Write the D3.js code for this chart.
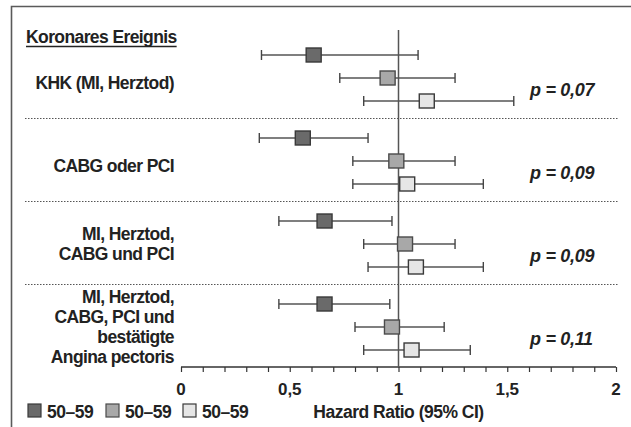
<!DOCTYPE html>
<html>
<head>
<meta charset="utf-8">
<script src="https://cdn.jsdelivr.net/npm/d3@7"></script>
<style>
  body { margin: 0; background: #fff; }
  text { font-family: "Liberation Sans", Arial, Helvetica, sans-serif; fill: #222; }
</style>
</head>
<body>
<script>
// data
const groups = ["KHK", "CABG", "MI_CABG", "MI_AP"]
const groupLabels = [
  ["KHK (MI, Herztod)"],
  ["CABG oder PCI"],
  ["MI, Herztod,", "CABG und PCI"],
  ["MI, Herztod,", "CABG, PCI und", "bestätigte", "Angina pectoris"]
]
const pValues = ["p = 0,07", "p = 0,09", "p = 0,09", "p = 0,11"]
const seriesNames = ["50–59", "50–59", "50–59"]
// hazard ratio per group, one value per series
const hr    = [[0.61, 0.95, 1.13], [0.56, 0.99, 1.04], [0.66, 1.03, 1.08], [0.66, 0.97, 1.06]]
const lower = [[0.37, 0.73, 0.84], [0.36, 0.79, 0.79], [0.45, 0.84, 0.86], [0.45, 0.80, 0.84]]
const upper = [[1.09, 1.26, 1.53], [0.86, 1.26, 1.39], [0.97, 1.26, 1.39], [0.96, 1.21, 1.33]]
const tickValues = [0, 0.5, 1, 1.5, 2]
const tickLabels = ["0", "0,5", "1", "1,5", "2"]

const width = 631, height = 427
const fills = ["#6a6a6a", "#a8a8a8", "#e6e6e6"]
const strokes = ["#3a3a3a", "#4a4a4a", "#3a3a3a"]
const labelFont = "17.5px"

const x = d3.scaleLinear().domain([0, 2]).range([181, 616])
const yGroup = d3.scaleBand().domain(groups).range([35, 367])
const yRow = d3.scalePoint().domain([0, 1, 2]).range([20, 66])

const svg = d3.select("body").append("svg")
  .attr("width", width)
  .attr("height", height)

// frame (top + left)
svg.append("path")
  .attr("d", `M11.5,${height} L11.5,6.5 L${width},6.5`)
  .attr("fill", "none")
  .attr("stroke", "#5a5a5a")
  .attr("stroke-width", 1.6)

// dotted separators
svg.selectAll("line.sep")
  .data(groups.slice(1))
  .enter().append("line")
  .attr("class", "sep")
  .attr("x1", 25).attr("x2", 619)
  .attr("y1", d => yGroup(d) + 0.5).attr("y2", d => yGroup(d) + 0.5)
  .attr("stroke", "#555")
  .attr("stroke-width", 1)
  .attr("stroke-dasharray", "1.5,1.5")

// axis
const xAxis = d3.axisBottom(x)
  .tickValues(d3.range(0, 2.001, 0.1))
  .tickSize(5)
  .tickFormat("")
const axisG = svg.append("g")
  .attr("transform", "translate(0,367)")
  .call(xAxis)
axisG.select(".domain").attr("stroke", "#333").attr("stroke-width", 1.4).attr("d", `M${x(0)},0H${x(2)}`)
axisG.selectAll(".tick line").attr("stroke", "#333").attr("stroke-width", 1.2)

svg.selectAll("text.tick")
  .data(tickValues)
  .enter().append("text")
  .attr("class", "tick")
  .attr("x", d => x(d))
  .attr("y", 395)
  .attr("text-anchor", "middle")
  .style("font-size", "17px")
  .style("font-weight", "bold")
  .text((d, i) => tickLabels[i])

svg.append("text")
  .attr("x", x(1))
  .attr("y", 418)
  .attr("text-anchor", "middle")
  .style("font-size", labelFont)
  .style("font-weight", "bold")
  .style("letter-spacing", "-0.5px")
  .text("Hazard Ratio (95% CI)")

// reference line at HR = 1
svg.append("line")
  .attr("x1", x(1)).attr("x2", x(1))
  .attr("y1", 30).attr("y2", 367)
  .attr("stroke", "#555")
  .attr("stroke-width", 1.5)

// header
const header = svg.append("text")
  .attr("x", 26)
  .attr("y", 43)
  .style("font-size", labelFont)
  .style("font-weight", "bold")
  .style("letter-spacing", "-0.6px")
  .text("Koronares Ereignis")
const hw = header.node().getComputedTextLength()
svg.append("line")
  .attr("x1", 26).attr("x2", 26 + hw)
  .attr("y1", 46.5).attr("y2", 46.5)
  .attr("stroke", "#222")
  .attr("stroke-width", 1.3)

// group labels
groups.forEach((g, gi) => {
  const lines = groupLabels[gi]
  const center = yGroup(g) + 41.5 + (lines.length === 1 ? 6 : 1.5)
  const lh = 20.3
  const top = center - (lines.length - 1) * lh / 2
  const t = svg.append("text")
    .attr("text-anchor", "end")
    .style("font-size", labelFont)
    .style("font-weight", "bold")
    .style("letter-spacing", "-0.6px")
  lines.forEach((l, li) => {
    t.append("tspan")
      .attr("x", 174)
      .attr("y", top + li * lh + 6)
      .text(l)
  })

  svg.append("text")
    .attr("x", 530)
    .attr("y", yGroup(g) + 55 + 6)
    .style("font-size", "18px")
    .style("font-weight", "bold")
    .style("font-style", "italic")
    .style("letter-spacing", "-0.3px")
    .text(pValues[gi])
})

// forest plot marks
const rows = []
groups.forEach((g, gi) => {
  hr[gi].forEach((v, si) => {
    rows.push({ g: g, s: si, hr: v, lo: lower[gi][si], hi: upper[gi][si] })
  })
})
const cy = d => yGroup(d.g) + yRow(d.s)

const mark = svg.selectAll("g.row")
  .data(rows)
  .enter().append("g")
  .attr("class", "row")

mark.append("line")
  .attr("x1", d => x(d.lo)).attr("x2", d => x(d.hi))
  .attr("y1", cy).attr("y2", cy)
  .attr("stroke", "#555").attr("stroke-width", 1.5)
mark.append("line")
  .attr("x1", d => x(d.lo)).attr("x2", d => x(d.lo))
  .attr("y1", d => cy(d) - 5).attr("y2", d => cy(d) + 5)
  .attr("stroke", "#444").attr("stroke-width", 1.4)
mark.append("line")
  .attr("x1", d => x(d.hi)).attr("x2", d => x(d.hi))
  .attr("y1", d => cy(d) - 5).attr("y2", d => cy(d) + 5)
  .attr("stroke", "#444").attr("stroke-width", 1.4)
mark.append("rect")
  .attr("x", d => x(d.hr) - 7.5)
  .attr("y", d => cy(d) - 7)
  .attr("width", 15).attr("height", 14)
  .attr("fill", d => fills[d.s])
  .attr("stroke", d => strokes[d.s])
  .attr("stroke-width", 1.4)

// legend
const legendX = [28, 106, 183]
const legend = svg.selectAll("g.legend")
  .data(seriesNames)
  .enter().append("g")
  .attr("class", "legend")
  .attr("transform", (d, i) => `translate(${legendX[i]},404)`)
legend.append("rect")
  .attr("width", 13).attr("height", 13)
  .attr("fill", (d, i) => fills[i])
  .attr("stroke", (d, i) => strokes[i])
  .attr("stroke-width", 1.2)
legend.append("text")
  .attr("x", 19)
  .attr("y", 13.5)
  .style("font-size", labelFont)
  .style("font-weight", "bold")
  .style("letter-spacing", "-0.5px")
  .text(d => d)
</script>
</body>
</html>
